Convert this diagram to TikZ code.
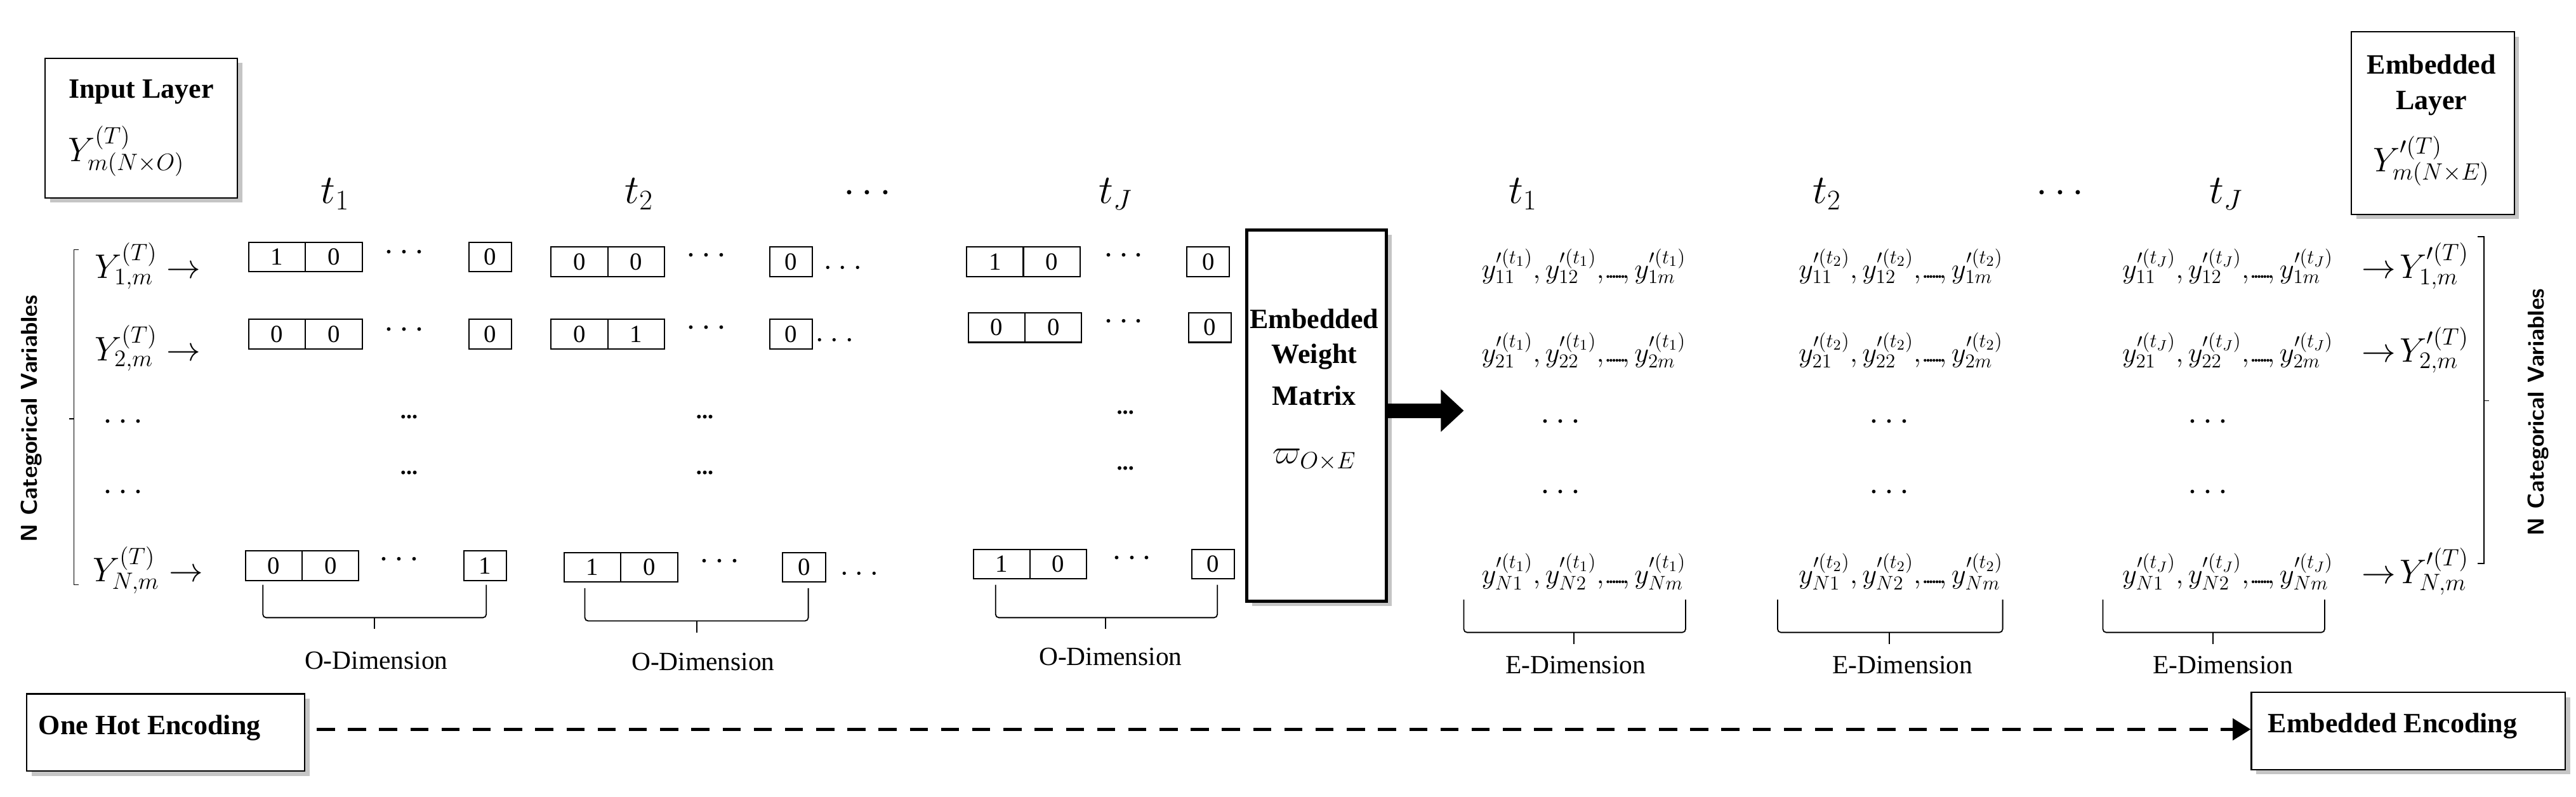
\documentclass[tikz,border=0pt]{standalone}
\usepackage{fontspec}
\setmainfont{Liberation Serif}
\usetikzlibrary{shadows,arrows.meta}
\begin{document}
\begin{tikzpicture}[x=1pt,y=-1pt,
  cell/.style={draw,line width=0.8pt,minimum width=34.5pt,minimum height=18pt,inner sep=0pt,anchor=north west,font=\fontsize{15}{15}\selectfont},
  one/.style={draw,line width=0.8pt,minimum width=26pt,minimum height=18pt,inner sep=0pt,anchor=north west,font=\fontsize{15}{15}\selectfont},
  lbl/.style={font=\fontsize{16}{16}\selectfont},
  mth/.style={font=\fontsize{20}{20}\selectfont},
  ymth/.style={font=\fontsize{18}{18}\selectfont,inner sep=0pt},
  shbox/.style={draw,line width=0.8pt,fill=white,drop shadow={shadow xshift=3pt,shadow yshift=-3pt,fill=black!45},inner sep=0pt},
  brc/.style={line width=0.7pt,rounded corners=2pt},
  bt/.style={font=\bfseries\fontsize{17}{17}\selectfont}]
\useasboundingbox (0,0) rectangle (1568,485);
% Input layer box
\node[shbox,minimum width=117pt,minimum height=85pt,anchor=north west] (inbox) at (27,35) {};
\node[bt] (intxt) at (86,56) {Input Layer};
\node[mth,anchor=west] (inY) at (38,92) {$Y^{(T)}_{m(N\times O)}$};
% Embedded layer box
\node[shbox,minimum width=99pt,minimum height=111pt,anchor=north west] (embox) at (1431,19) {};
\node[bt] (emt1) at (1480,39) {Embedded};
\node[bt] (emt2) at (1480,63) {Layer};
\node[mth] (emY) at (1480,98) {$Y'^{(T)}_{m(N\times E)}$};
% time labels
\foreach \x/\t/\n in {204/t_1/a,389/t_2/b,528/\cdots/c,679/t_J/d}
  \node[font=\fontsize{24}{24}\selectfont] (tl\n) at (\x,118) {$\t$};
\foreach \x/\t/\n in {927/t_1/a,1112/t_2/b,1254/\cdots/c,1355/t_J/d}
  \node[font=\fontsize{24}{24}\selectfont] (tr\n) at (\x,118) {$\t$};
% left bracket and label
\draw[line width=0.6pt] (48,152) -- (45,152) -- (45,356) -- (48,356);
\draw[line width=0.6pt] (45,255) -- (42,255);
\node[rotate=90,font=\sffamily\bfseries\fontsize{14}{14}\selectfont] (nl) at (19,255) {N Categorical Variables};
% row labels
\node[mth] (r1) at (90,162) {$Y^{(T)}_{1,m}\rightarrow$};
\node[mth] (r2) at (90,212) {$Y^{(T)}_{2,m}\rightarrow$};
\node[mth] (r3) at (75,257) {$\cdots$};
\node[mth] (r4) at (75,300) {$\cdots$};
\node[mth] (rN) at (90,347) {$Y^{(T)}_{N,m}\rightarrow$};
% one-hot cells
\newcommand\pairc[5]{\node[cell] (#1a) at (#2,#3) {#4};\node[cell] (#1b) at (#2+34.5,#3) {#5};}
\pairc{p11}{151}{147}{1}{0}  \node[one] (s11) at (285,147) {0}; \node[mth] (d11) at (246,154) {$\cdots$};
\pairc{p12}{151}{194}{0}{0}  \node[one] (s12) at (285,194) {0}; \node[mth] (d12) at (246,201) {$\cdots$};
\pairc{p1N}{149}{335}{0}{0}  \node[one] (s1N) at (282,335) {1}; \node[mth] (d1N) at (243,341) {$\cdots$};
\pairc{p21}{335}{150}{0}{0}  \node[one] (s21) at (468,150) {0}; \node[mth] (d21) at (430,156) {$\cdots$}; \node[mth] (e21) at (513,163) {$\dots$};
\pairc{p22}{335}{194}{0}{1}  \node[one] (s22) at (468,194) {0}; \node[mth] (d22) at (430,200) {$\cdots$}; \node[mth] (e22) at (508,207) {$\dots$};
\pairc{p2N}{343}{336}{1}{0}  \node[one] (s2N) at (476,336) {0}; \node[mth] (d2N) at (438,342) {$\cdots$}; \node[mth] (e2N) at (523,349) {$\dots$};
\pairc{pJ1}{588}{150}{1}{0}  \node[one] (sJ1) at (722,150) {0}; \node[mth] (dJ1) at (684,156) {$\cdots$};
\pairc{pJ2}{589}{190}{0}{0}  \node[one] (sJ2) at (723,190) {0}; \node[mth] (dJ2) at (684,196) {$\cdots$};
\pairc{pJN}{592}{334}{1}{0}  \node[one] (sJN) at (725,334) {0}; \node[mth] (dJN) at (689,340) {$\cdots$};
% vertical dots
\foreach \x/\y/\n in {249/257/a,249/291/b,429/257/c,429/291/d,685/254/e,685/288/f}
  \node[font=\bfseries\fontsize{14}{14}\selectfont] (vd\n) at (\x,\y-3) {...};
% O braces
\draw[brc] (160,356) -- (160,376) -- (296,376) -- (296,356); \draw[line width=0.7pt] (228,376) -- (228,383);
\draw[brc] (356,358) -- (356,378) -- (492,378) -- (492,358); \draw[line width=0.7pt] (424,378) -- (424,385);
\draw[brc] (606,356) -- (606,376) -- (741,376) -- (741,356); \draw[line width=0.7pt] (673,376) -- (673,383);
\node[lbl] (od1) at (229,402) {O-Dimension};
\node[lbl] (od2) at (428,403) {O-Dimension};
\node[lbl] (od3) at (676,400) {O-Dimension};
% weight matrix
\node[draw,line width=2pt,fill=white,drop shadow={shadow xshift=3pt,shadow yshift=-3pt,fill=black!45},minimum width=85pt,minimum height=226pt,anchor=north west] (wm) at (758,139) {};
\node[bt] (wm1) at (800,194) {Embedded};
\node[bt] (wm2) at (800,217) {Weight};
\node[bt] (wm3) at (800,241) {Matrix};
\node[font=\fontsize{22}{22}\selectfont] (wm4) at (800,280) {$\varpi_{O\times E}$};
\coordinate (arrend) at (891,250);
\draw[line width=9pt,-{Triangle[width=25pt,length=14pt]}] (wm.east |- arrend) -- (arrend);
% embedded outputs
\foreach \x/\t/\g in {964/t_1/a,1157/t_2/b,1356/t_J/c}{
  \node[ymth] (y1\g) at (\x,162) {$y'^{(\t)}_{11},y'^{(\t)}_{12},\!.\!.\!.\!.\!.\!.\!,y'^{(\t)}_{1m}$};
  \node[ymth] (y2\g) at (\x,213) {$y'^{(\t)}_{21},y'^{(\t)}_{22},\!.\!.\!.\!.\!.\!.\!,y'^{(\t)}_{2m}$};
  \node[ymth] (yN\g) at (\x,348) {$y'^{(\t)}_{N1},y'^{(\t)}_{N2},\!.\!.\!.\!.\!.\!.\!,y'^{(\t)}_{Nm}$};
}
\foreach \x/\g in {950/a,1150/b,1344/c}{
  \node[mth] (yd1\g) at (\x,257) {$\cdots$};
  \node[mth] (yd2\g) at (\x,300) {$\cdots$};
}
\node[mth] (o1) at (1472,162) {$\!\rightarrow\! Y'^{(T)}_{1,m}$};
\node[mth] (o2) at (1472,213) {$\!\rightarrow\! Y'^{(T)}_{2,m}$};
\node[mth] (oN) at (1472,348) {$\!\rightarrow\! Y'^{(T)}_{N,m}$};
\draw[brc] (891,365) -- (891,385) -- (1026,385) -- (1026,365); \draw[line width=0.7pt] (958,385) -- (958,392);
\draw[brc] (1082,365) -- (1082,385) -- (1219,385) -- (1219,365); \draw[line width=0.7pt] (1150,385) -- (1150,392);
\draw[brc] (1280,365) -- (1280,385) -- (1415,385) -- (1415,365); \draw[line width=0.7pt] (1347,385) -- (1347,392);
\node[lbl] (ed1) at (959,405) {E-Dimension};
\node[lbl] (ed2) at (1158,405) {E-Dimension};
\node[lbl] (ed3) at (1353,405) {E-Dimension};
% right bracket
\draw[line width=0.6pt] (1508,144) -- (1512,144) -- (1512,343) -- (1508,343);
\draw[line width=0.6pt] (1512,244) -- (1515,244);
\node[rotate=90,font=\sffamily\bfseries\fontsize{14}{14}\selectfont] (nr) at (1545,251) {N Categorical Variables};
% encodings
\node[shbox,minimum width=169pt,minimum height=47pt,anchor=north west] (oh) at (16,422) {};
\node[bt,anchor=west] (ohtxt) at (20,443) {One Hot Encoding};
\node[shbox,minimum width=191pt,minimum height=47pt,anchor=north west] (ee) at (1370,421) {};
\node[bt,anchor=west] (eetxt) at (1377,442) {Embedded Encoding};
\draw[line width=2.2pt,dash pattern=on 11pt off 8pt,-{Triangle[width=13pt,length=11pt]}] ([xshift=7pt]oh.east |- 0,444) -- (ee.west |- 0,444);
\end{tikzpicture}
\end{document}
